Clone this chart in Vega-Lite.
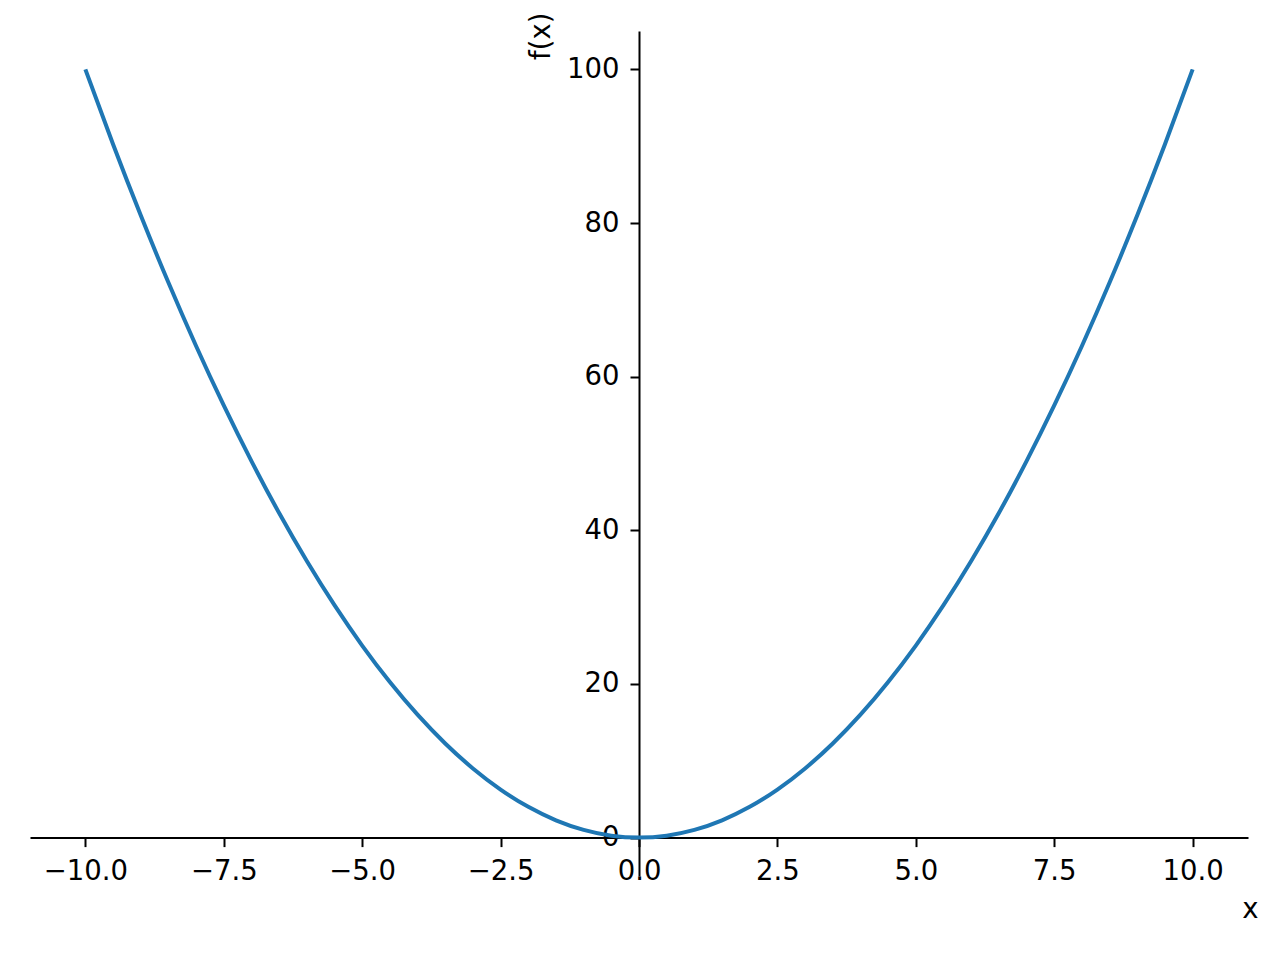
{
  "$schema": "https://vega.github.io/schema/vega-lite/v6.json",
  "width": 1218,
  "height": 845,
  "autosize": {"type": "none"},
  "padding": {"left": 30, "top": 31, "right": 32, "bottom": 84},
  "background": "white",
  "config": {
    "view": {"stroke": null},
    "font": "DejaVu Sans",
    "axis": {
      "grid": false,
      "domainColor": "black",
      "domainWidth": 2,
      "tickColor": "black",
      "tickWidth": 2,
      "tickSize": 9,
      "labelFont": "DejaVu Sans",
      "labelFontSize": 27.5,
      "labelColor": "black",
      "titleFont": "DejaVu Sans",
      "titleFontSize": 27.5,
      "titleFontWeight": "normal",
      "titleColor": "black",
      "labelFlush": false,
      "labelOverlap": false
    }
  },
  "data": {
    "values": [
      {"x": -10, "y": 100}, {"x": -9.5, "y": 90.25}, {"x": -9, "y": 81}, {"x": -8.5, "y": 72.25},
      {"x": -8, "y": 64}, {"x": -7.5, "y": 56.25}, {"x": -7, "y": 49}, {"x": -6.5, "y": 42.25},
      {"x": -6, "y": 36}, {"x": -5.5, "y": 30.25}, {"x": -5, "y": 25}, {"x": -4.5, "y": 20.25},
      {"x": -4, "y": 16}, {"x": -3.5, "y": 12.25}, {"x": -3, "y": 9}, {"x": -2.5, "y": 6.25},
      {"x": -2, "y": 4}, {"x": -1.5, "y": 2.25}, {"x": -1, "y": 1}, {"x": -0.5, "y": 0.25},
      {"x": 0, "y": 0},
      {"x": 0.5, "y": 0.25}, {"x": 1, "y": 1}, {"x": 1.5, "y": 2.25}, {"x": 2, "y": 4},
      {"x": 2.5, "y": 6.25}, {"x": 3, "y": 9}, {"x": 3.5, "y": 12.25}, {"x": 4, "y": 16},
      {"x": 4.5, "y": 20.25}, {"x": 5, "y": 25}, {"x": 5.5, "y": 30.25}, {"x": 6, "y": 36},
      {"x": 6.5, "y": 42.25}, {"x": 7, "y": 49}, {"x": 7.5, "y": 56.25}, {"x": 8, "y": 64},
      {"x": 8.5, "y": 72.25}, {"x": 9, "y": 81}, {"x": 9.5, "y": 90.25}, {"x": 10, "y": 100}
    ]
  },
  "mark": {"type": "line", "color": "#1f77b4", "strokeWidth": 4, "interpolate": "monotone", "clip": false},
  "encoding": {
    "x": {
      "field": "x",
      "type": "quantitative",
      "scale": {"domain": [-11, 11], "nice": false, "zero": false},
      "axis": {
        "orient": "bottom",
        "offset": -38.4,
        "values": [-10, -7.5, -5, -2.5, 0, 2.5, 5, 7.5, 10],
        "format": ".1f",
        "labelPadding": 11,
        "title": "x",
        "titleAnchor": "end",
        "titleAlign": "center",
        "titleBaseline": "alphabetic",
        "titleX": 1220,
        "titleY": 80
      }
    },
    "y": {
      "field": "y",
      "type": "quantitative",
      "scale": {"domain": [-5, 105], "nice": false, "zero": false},
      "axis": {
        "orient": "left",
        "offset": -609,
        "values": [0, 20, 40, 60, 80, 100],
        "format": "d",
        "labelPadding": 11,
        "title": "f(x)",
        "titleAngle": -90,
        "titleAlign": "right",
        "titleBaseline": "alphabetic",
        "titleX": -90,
        "titleY": -19
      }
    }
  }
}
